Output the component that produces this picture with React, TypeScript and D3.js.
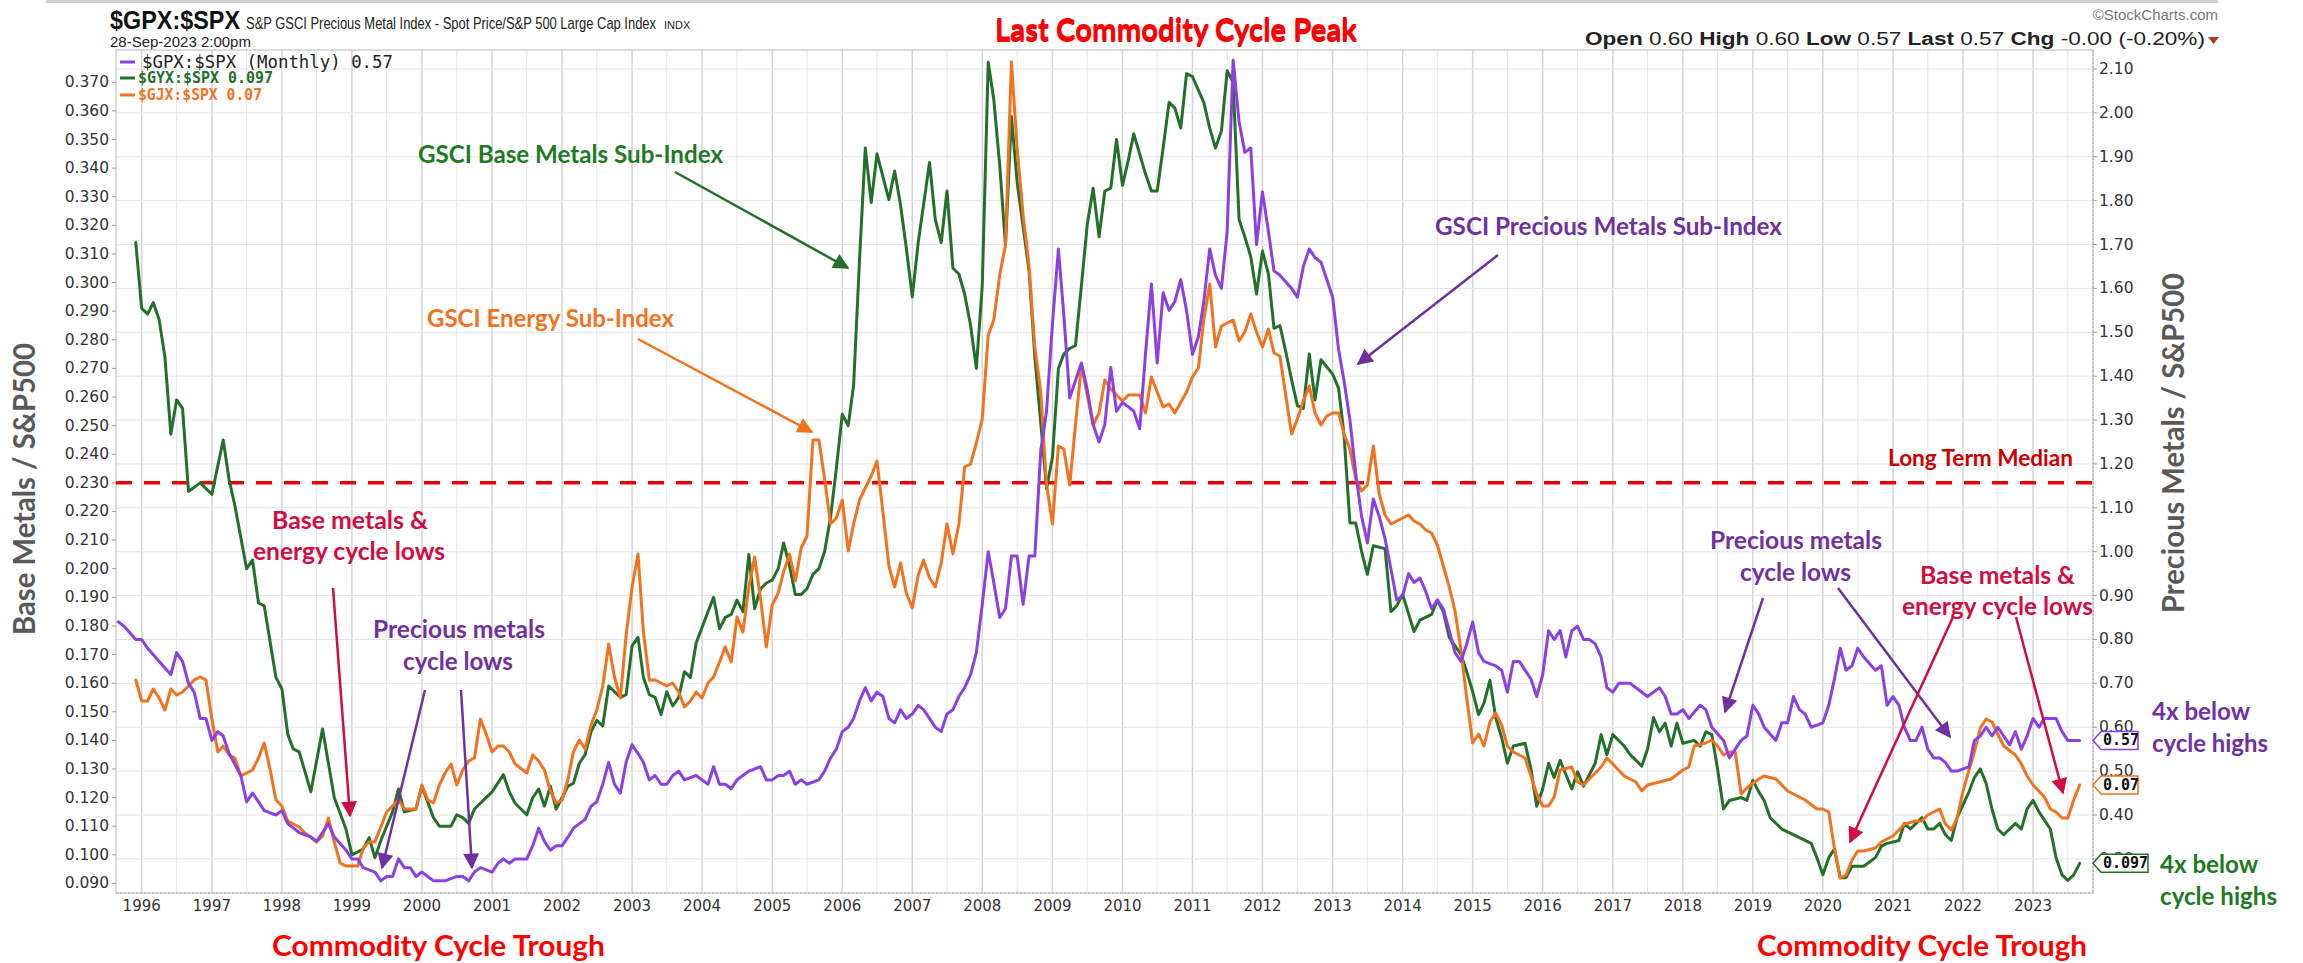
import * as d3 from "d3";

type Row = [string, number];

// $GYX:$SPX  (GSCI base metals / S&P 500), left axis
const baseMetals: Row[] = [
  ["1995-12",0.314],["1996-01",0.291],["1996-02",0.289],["1996-03",0.293],["1996-04",0.287],["1996-05",0.274],["1996-06",0.247],["1996-07",0.259],["1996-08",0.256],["1996-09",0.227],["1996-11",0.230],
  ["1997-01",0.226],["1997-03",0.245],["1997-04",0.231],["1997-05",0.222],["1997-07",0.200],["1997-08",0.203],["1997-09",0.188],["1997-10",0.187],["1997-12",0.162],
  ["1998-01",0.158],["1998-02",0.142],["1998-03",0.137],["1998-04",0.136],["1998-06",0.122],["1998-08",0.144],["1998-10",0.120],["1998-12",0.109],
  ["1999-01",0.100],["1999-02",0.101],["1999-03",0.102],["1999-04",0.106],["1999-05",0.099],["1999-06",0.105],["1999-08",0.115],["1999-09",0.123],["1999-10",0.115],["1999-12",0.116],
  ["2000-01",0.124],["2000-03",0.113],["2000-04",0.110],["2000-06",0.110],["2000-07",0.114],["2000-08",0.113],["2000-09",0.111],["2000-10",0.116],["2000-12",0.120],
  ["2001-01",0.122],["2001-03",0.128],["2001-04",0.122],["2001-05",0.118],["2001-07",0.114],["2001-08",0.120],["2001-09",0.123],["2001-10",0.117],["2001-11",0.124],["2001-12",0.116],
  ["2002-02",0.124],["2002-03",0.125],["2002-04",0.132],["2002-05",0.135],["2002-06",0.143],["2002-07",0.147],["2002-08",0.145],["2002-09",0.159],["2002-11",0.155],["2002-12",0.156],
  ["2003-01",0.173],["2003-02",0.176],["2003-03",0.162],["2003-04",0.156],["2003-05",0.155],["2003-06",0.149],["2003-07",0.157],["2003-08",0.152],["2003-09",0.155],["2003-10",0.164],["2003-11",0.162],["2003-12",0.174],
  ["2004-02",0.185],["2004-03",0.190],["2004-04",0.179],["2004-05",0.183],["2004-06",0.184],["2004-07",0.189],["2004-08",0.185],["2004-09",0.205],["2004-10",0.186],["2004-11",0.193],["2004-12",0.195],
  ["2005-01",0.196],["2005-02",0.200],["2005-03",0.209],["2005-04",0.201],["2005-05",0.191],["2005-06",0.191],["2005-07",0.193],["2005-08",0.198],["2005-09",0.200],["2005-10",0.206],["2005-11",0.218],["2005-12",0.235],
  ["2006-01",0.254],["2006-02",0.250],["2006-03",0.264],["2006-04",0.308],["2006-05",0.347],["2006-06",0.328],["2006-07",0.345],["2006-08",0.337],["2006-09",0.329],["2006-10",0.339],["2006-11",0.327],["2006-12",0.312],
  ["2007-01",0.295],["2007-02",0.314],["2007-04",0.342],["2007-05",0.322],["2007-06",0.314],["2007-07",0.332],["2007-08",0.305],["2007-09",0.303],["2007-10",0.296],["2007-11",0.285],["2007-12",0.270],
  ["2008-01",0.299],["2008-02",0.377],["2008-03",0.364],["2008-04",0.341],["2008-05",0.313],["2008-06",0.358],["2008-07",0.335],["2008-09",0.304],["2008-10",0.274],["2008-11",0.251],["2008-12",0.228],
  ["2009-01",0.239],["2009-02",0.270],["2009-03",0.275],["2009-04",0.277],["2009-05",0.278],["2009-06",0.299],["2009-07",0.320],["2009-08",0.333],["2009-09",0.316],["2009-10",0.332],["2009-11",0.333],["2009-12",0.350],
  ["2010-01",0.334],["2010-02",0.343],["2010-03",0.352],["2010-05",0.338],["2010-06",0.332],["2010-07",0.332],["2010-08",0.347],["2010-09",0.363],["2010-10",0.361],["2010-11",0.354],["2010-12",0.373],
  ["2011-01",0.372],["2011-03",0.363],["2011-04",0.354],["2011-05",0.347],["2011-06",0.353],["2011-07",0.374],["2011-08",0.370],["2011-09",0.322],["2011-10",0.316],["2011-11",0.309],["2011-12",0.296],
  ["2012-01",0.311],["2012-02",0.303],["2012-03",0.284],["2012-04",0.285],["2012-05",0.276],["2012-06",0.266],["2012-07",0.257],["2012-08",0.256],["2012-09",0.275],["2012-10",0.259],["2012-11",0.273],
  ["2013-01",0.268],["2013-02",0.263],["2013-03",0.247],["2013-04",0.216],["2013-05",0.216],["2013-06",0.206],["2013-07",0.198],["2013-08",0.208],["2013-10",0.207],["2013-11",0.185],["2013-12",0.187],
  ["2014-01",0.191],["2014-03",0.178],["2014-04",0.182],["2014-06",0.184],["2014-07",0.189],["2014-08",0.185],["2014-09",0.176],["2014-11",0.170],["2014-12",0.164],
  ["2015-01",0.157],["2015-02",0.149],["2015-03",0.153],["2015-04",0.161],["2015-05",0.148],["2015-06",0.141],["2015-07",0.132],["2015-08",0.138],["2015-10",0.139],["2015-11",0.130],["2015-12",0.117],
  ["2016-01",0.123],["2016-02",0.132],["2016-03",0.127],["2016-04",0.133],["2016-06",0.123],["2016-07",0.129],["2016-08",0.124],["2016-10",0.132],["2016-11",0.142],["2016-12",0.135],
  ["2017-01",0.142],["2017-03",0.138],["2017-04",0.135],["2017-06",0.131],["2017-07",0.137],["2017-08",0.148],["2017-09",0.143],["2017-10",0.146],["2017-11",0.138],["2017-12",0.146],
  ["2018-01",0.139],["2018-03",0.140],["2018-04",0.138],["2018-05",0.143],["2018-06",0.142],["2018-07",0.130],["2018-08",0.116],["2018-09",0.119],["2018-11",0.120],["2018-12",0.119],
  ["2019-01",0.126],["2019-02",0.122],["2019-03",0.119],["2019-04",0.113],["2019-06",0.109],["2019-07",0.108],["2019-09",0.106],["2019-11",0.104],["2019-12",0.099],
  ["2020-01",0.093],["2020-02",0.099],["2020-03",0.102],["2020-04",0.092],["2020-05",0.092],["2020-06",0.096],["2020-08",0.096],["2020-10",0.099],["2020-11",0.103],["2020-12",0.104],
  ["2021-02",0.105],["2021-03",0.111],["2021-04",0.109],["2021-05",0.111],["2021-06",0.113],["2021-07",0.109],["2021-08",0.109],["2021-09",0.111],["2021-10",0.107],["2021-11",0.105],["2021-12",0.113],
  ["2022-02",0.122],["2022-03",0.127],["2022-04",0.130],["2022-05",0.125],["2022-06",0.116],["2022-07",0.109],["2022-08",0.107],["2022-10",0.111],["2022-11",0.109],["2022-12",0.116],
  ["2023-01",0.119],["2023-02",0.115],["2023-04",0.109],["2023-05",0.099],["2023-06",0.093],["2023-07",0.091],["2023-08",0.093],["2023-09",0.097],
];

// $GPX:$SPX  (GSCI precious metals / S&P 500), right axis
const preciousMetals: Row[] = [
  ["1995-09",0.84],["1995-10",0.83],["1995-12",0.80],["1996-01",0.80],["1996-02",0.78],["1996-04",0.75],["1996-06",0.72],["1996-07",0.77],["1996-08",0.75],["1996-09",0.70],["1996-10",0.68],["1996-11",0.62],["1996-12",0.62],
  ["1997-01",0.57],["1997-02",0.59],["1997-03",0.58],["1997-04",0.54],["1997-06",0.49],["1997-07",0.43],["1997-08",0.45],["1997-09",0.43],["1997-10",0.41],["1997-12",0.40],
  ["1998-01",0.41],["1998-02",0.38],["1998-04",0.36],["1998-06",0.35],["1998-07",0.34],["1998-09",0.38],["1998-10",0.35],["1998-12",0.32],
  ["1999-01",0.30],["1999-02",0.30],["1999-03",0.28],["1999-05",0.27],["1999-06",0.25],["1999-07",0.26],["1999-08",0.26],["1999-09",0.30],["1999-10",0.28],["1999-11",0.28],["1999-12",0.26],
  ["2000-01",0.27],["2000-03",0.25],["2000-04",0.25],["2000-05",0.25],["2000-07",0.26],["2000-08",0.26],["2000-09",0.25],["2000-10",0.27],["2000-11",0.28],
  ["2001-01",0.27],["2001-02",0.29],["2001-03",0.30],["2001-04",0.29],["2001-05",0.30],["2001-07",0.30],["2001-08",0.33],["2001-09",0.37],["2001-10",0.34],["2001-11",0.32],["2001-12",0.33],
  ["2002-01",0.33],["2002-02",0.35],["2002-03",0.37],["2002-05",0.39],["2002-06",0.42],["2002-07",0.43],["2002-08",0.47],["2002-09",0.52],["2002-10",0.47],["2002-11",0.45],["2002-12",0.52],
  ["2003-01",0.56],["2003-02",0.54],["2003-03",0.52],["2003-04",0.48],["2003-05",0.49],["2003-06",0.47],["2003-07",0.47],["2003-08",0.49],["2003-09",0.50],["2003-10",0.48],["2003-12",0.49],
  ["2004-01",0.48],["2004-02",0.47],["2004-03",0.51],["2004-04",0.47],["2004-05",0.47],["2004-06",0.46],["2004-07",0.48],["2004-08",0.49],["2004-09",0.50],["2004-11",0.51],["2004-12",0.48],
  ["2005-01",0.48],["2005-02",0.49],["2005-03",0.49],["2005-04",0.50],["2005-05",0.47],["2005-06",0.48],["2005-07",0.47],["2005-09",0.48],["2005-10",0.50],["2005-11",0.53],["2005-12",0.55],
  ["2006-01",0.59],["2006-02",0.60],["2006-03",0.62],["2006-04",0.66],["2006-05",0.69],["2006-06",0.66],["2006-07",0.68],["2006-08",0.67],["2006-09",0.62],["2006-10",0.61],["2006-11",0.64],["2006-12",0.62],
  ["2007-01",0.63],["2007-02",0.65],["2007-03",0.64],["2007-04",0.62],["2007-05",0.60],["2007-06",0.59],["2007-07",0.63],["2007-08",0.64],["2007-09",0.67],["2007-10",0.69],["2007-11",0.72],["2007-12",0.77],
  ["2008-01",0.88],["2008-02",1.00],["2008-03",0.93],["2008-04",0.85],["2008-05",0.87],["2008-06",0.99],["2008-07",0.99],["2008-08",0.88],["2008-09",0.99],["2008-10",0.99],["2008-11",1.23],["2008-12",1.32],
  ["2009-01",1.52],["2009-02",1.69],["2009-03",1.54],["2009-04",1.35],["2009-05",1.39],["2009-06",1.43],["2009-07",1.37],["2009-08",1.29],["2009-09",1.25],["2009-10",1.29],["2009-11",1.42],["2009-12",1.32],
  ["2010-01",1.34],["2010-02",1.33],["2010-03",1.32],["2010-04",1.28],["2010-05",1.45],["2010-06",1.61],["2010-07",1.43],["2010-08",1.59],["2010-09",1.55],["2010-10",1.57],["2010-11",1.62],["2010-12",1.55],
  ["2011-01",1.45],["2011-02",1.49],["2011-03",1.57],["2011-04",1.69],["2011-05",1.63],["2011-06",1.60],["2011-07",1.73],["2011-08",2.12],["2011-09",1.98],["2011-10",1.91],["2011-11",1.92],["2011-12",1.70],
  ["2012-01",1.82],["2012-02",1.73],["2012-03",1.64],["2012-04",1.63],["2012-06",1.60],["2012-07",1.58],["2012-08",1.65],["2012-09",1.69],["2012-10",1.67],["2012-11",1.66],
  ["2013-01",1.58],["2013-02",1.46],["2013-03",1.39],["2013-04",1.30],["2013-05",1.18],["2013-06",1.08],["2013-07",1.02],["2013-08",1.12],["2013-09",1.08],["2013-10",1.03],["2013-11",0.96],["2013-12",0.89],
  ["2014-01",0.90],["2014-02",0.95],["2014-03",0.93],["2014-04",0.94],["2014-05",0.91],["2014-06",0.87],["2014-07",0.89],["2014-08",0.87],["2014-09",0.82],["2014-10",0.77],["2014-11",0.75],["2014-12",0.79],
  ["2015-01",0.84],["2015-02",0.77],["2015-03",0.75],["2015-05",0.74],["2015-06",0.73],["2015-07",0.68],["2015-08",0.75],["2015-09",0.75],["2015-11",0.71],["2015-12",0.67],
  ["2016-01",0.72],["2016-02",0.82],["2016-03",0.80],["2016-04",0.82],["2016-05",0.76],["2016-06",0.82],["2016-07",0.83],["2016-08",0.80],["2016-09",0.80],["2016-10",0.79],["2016-11",0.76],["2016-12",0.69],
  ["2017-01",0.68],["2017-02",0.70],["2017-03",0.70],["2017-04",0.70],["2017-05",0.69],["2017-07",0.67],["2017-08",0.68],["2017-09",0.69],["2017-10",0.67],["2017-11",0.63],["2017-12",0.63],
  ["2018-01",0.64],["2018-02",0.62],["2018-04",0.65],["2018-05",0.64],["2018-06",0.60],["2018-08",0.57],["2018-09",0.53],["2018-10",0.55],["2018-11",0.57],["2018-12",0.58],
  ["2019-01",0.65],["2019-02",0.63],["2019-03",0.60],["2019-05",0.57],["2019-06",0.61],["2019-07",0.61],["2019-08",0.67],["2019-09",0.64],["2019-10",0.63],["2019-11",0.60],
  ["2020-01",0.61],["2020-02",0.65],["2020-03",0.71],["2020-04",0.78],["2020-05",0.73],["2020-06",0.74],["2020-07",0.78],["2020-08",0.76],["2020-10",0.73],["2020-11",0.74],["2020-12",0.65],
  ["2021-01",0.67],["2021-02",0.65],["2021-03",0.60],["2021-04",0.57],["2021-05",0.57],["2021-06",0.60],["2021-07",0.55],["2021-08",0.53],["2021-09",0.53],["2021-10",0.52],["2021-11",0.50],["2021-12",0.50],
  ["2022-02",0.51],["2022-03",0.57],["2022-04",0.58],["2022-05",0.60],["2022-06",0.58],["2022-07",0.60],["2022-08",0.58],["2022-09",0.56],["2022-10",0.59],["2022-11",0.55],["2022-12",0.58],
  ["2023-01",0.62],["2023-02",0.60],["2023-03",0.62],["2023-04",0.62],["2023-05",0.62],["2023-06",0.59],["2023-07",0.57],["2023-08",0.57],["2023-09",0.57],
];

// $GJX:$SPX  (GSCI energy / S&P 500), own hidden scale
const energy: Row[] = [
  ["1995-12",0.105],["1996-01",0.098],["1996-02",0.098],["1996-03",0.102],["1996-04",0.099],["1996-05",0.095],["1996-06",0.102],["1996-07",0.100],["1996-08",0.101],["1996-09",0.103],["1996-10",0.105],["1996-11",0.106],["1996-12",0.105],
  ["1997-01",0.092],["1997-02",0.081],["1997-03",0.083],["1997-04",0.080],["1997-05",0.079],["1997-06",0.073],["1997-08",0.075],["1997-09",0.079],["1997-10",0.084],["1997-11",0.075],["1997-12",0.065],
  ["1998-01",0.063],["1998-02",0.058],["1998-04",0.056],["1998-05",0.054],["1998-07",0.051],["1998-08",0.053],["1998-09",0.059],["1998-10",0.051],["1998-11",0.044],["1998-12",0.043],
  ["1999-02",0.043],["1999-03",0.049],["1999-04",0.051],["1999-05",0.051],["1999-06",0.056],["1999-07",0.061],["1999-09",0.065],["1999-10",0.062],["1999-11",0.062],["1999-12",0.062],
  ["2000-01",0.070],["2000-02",0.065],["2000-03",0.064],["2000-04",0.070],["2000-05",0.074],["2000-06",0.077],["2000-07",0.070],["2000-08",0.075],["2000-09",0.078],["2000-10",0.079],["2000-11",0.092],["2000-12",0.087],
  ["2001-01",0.081],["2001-02",0.083],["2001-03",0.083],["2001-04",0.081],["2001-05",0.077],["2001-07",0.074],["2001-08",0.080],["2001-09",0.078],["2001-10",0.075],["2001-11",0.068],["2001-12",0.064],
  ["2002-01",0.065],["2002-02",0.072],["2002-03",0.081],["2002-04",0.085],["2002-05",0.082],["2002-06",0.090],["2002-07",0.095],["2002-08",0.103],["2002-09",0.117],["2002-10",0.106],["2002-11",0.099],["2002-12",0.120],
  ["2003-01",0.136],["2003-02",0.147],["2003-03",0.121],["2003-04",0.105],["2003-05",0.105],["2003-06",0.104],["2003-07",0.103],["2003-08",0.104],["2003-09",0.101],["2003-10",0.096],["2003-11",0.098],["2003-12",0.101],
  ["2004-01",0.099],["2004-02",0.104],["2004-03",0.106],["2004-04",0.111],["2004-05",0.116],["2004-06",0.111],["2004-07",0.126],["2004-08",0.121],["2004-09",0.136],["2004-10",0.146],["2004-11",0.132],["2004-12",0.116],
  ["2005-01",0.130],["2005-02",0.134],["2005-03",0.141],["2005-04",0.147],["2005-05",0.138],["2005-06",0.149],["2005-07",0.153],["2005-08",0.185],["2005-09",0.185],["2005-10",0.172],["2005-11",0.157],["2005-12",0.159],
  ["2006-01",0.165],["2006-02",0.148],["2006-03",0.157],["2006-04",0.165],["2006-05",0.169],["2006-06",0.173],["2006-07",0.178],["2006-08",0.161],["2006-09",0.143],["2006-10",0.136],["2006-11",0.144],["2006-12",0.134],
  ["2007-01",0.129],["2007-02",0.140],["2007-03",0.145],["2007-04",0.139],["2007-05",0.136],["2007-06",0.144],["2007-07",0.157],["2007-08",0.147],["2007-09",0.157],["2007-10",0.176],["2007-11",0.177],["2007-12",0.184],
  ["2008-01",0.192],["2008-02",0.220],["2008-03",0.225],["2008-04",0.240],["2008-05",0.250],["2008-06",0.311],["2008-07",0.282],["2008-08",0.260],["2008-09",0.243],["2008-10",0.216],["2008-11",0.201],["2008-12",0.170],
  ["2009-01",0.157],["2009-02",0.183],["2009-03",0.182],["2009-04",0.170],["2009-05",0.190],["2009-06",0.210],["2009-07",0.200],["2009-08",0.190],["2009-09",0.194],["2009-10",0.205],["2009-11",0.202],["2009-12",0.200],
  ["2010-01",0.198],["2010-02",0.200],["2010-03",0.200],["2010-04",0.200],["2010-05",0.194],["2010-06",0.206],["2010-07",0.201],["2010-08",0.196],["2010-09",0.197],["2010-10",0.194],["2010-12",0.201],
  ["2011-01",0.206],["2011-02",0.209],["2011-03",0.225],["2011-04",0.237],["2011-05",0.216],["2011-06",0.223],["2011-07",0.224],["2011-08",0.225],["2011-09",0.218],["2011-10",0.221],["2011-11",0.227],["2011-12",0.221],
  ["2012-01",0.216],["2012-02",0.222],["2012-03",0.214],["2012-04",0.213],["2012-05",0.200],["2012-06",0.187],["2012-07",0.192],["2012-08",0.198],["2012-09",0.203],["2012-10",0.194],["2012-11",0.190],["2012-12",0.193],
  ["2013-01",0.194],["2013-02",0.194],["2013-03",0.187],["2013-04",0.182],["2013-05",0.172],["2013-06",0.168],["2013-07",0.170],["2013-08",0.183],["2013-09",0.167],["2013-10",0.160],["2013-11",0.157],
  ["2014-01",0.159],["2014-02",0.160],["2014-03",0.158],["2014-04",0.157],["2014-05",0.155],["2014-06",0.154],["2014-07",0.150],["2014-08",0.143],["2014-09",0.136],["2014-10",0.128],["2014-11",0.115],["2014-12",0.099],
  ["2015-01",0.084],["2015-02",0.087],["2015-03",0.083],["2015-04",0.091],["2015-05",0.094],["2015-06",0.090],["2015-07",0.083],["2015-08",0.081],["2015-10",0.079],["2015-11",0.073],["2015-12",0.067],
  ["2016-01",0.063],["2016-02",0.063],["2016-03",0.066],["2016-04",0.075],["2016-06",0.076],["2016-07",0.071],["2016-08",0.070],["2016-09",0.072],["2016-10",0.074],["2016-11",0.076],["2016-12",0.079],
  ["2017-01",0.077],["2017-03",0.073],["2017-05",0.071],["2017-06",0.068],["2017-07",0.070],["2017-09",0.071],["2017-11",0.072],
  ["2018-01",0.075],["2018-02",0.076],["2018-03",0.083],["2018-05",0.084],["2018-06",0.085],["2018-07",0.083],["2018-08",0.080],["2018-09",0.081],["2018-10",0.081],["2018-11",0.067],["2018-12",0.069],
  ["2019-02",0.072],["2019-03",0.073],["2019-05",0.072],["2019-06",0.070],["2019-07",0.068],["2019-09",0.066],["2019-10",0.065],["2019-12",0.062],
  ["2020-01",0.062],["2020-02",0.061],["2020-03",0.049],["2020-04",0.039],["2020-05",0.040],["2020-06",0.045],["2020-07",0.048],["2020-08",0.048],["2020-10",0.049],["2020-11",0.051],["2020-12",0.052],
  ["2021-01",0.053],["2021-02",0.055],["2021-03",0.057],["2021-05",0.058],["2021-06",0.058],["2021-07",0.060],["2021-08",0.061],["2021-09",0.062],["2021-10",0.057],["2021-11",0.055],["2021-12",0.059],
  ["2022-01",0.068],["2022-02",0.075],["2022-03",0.081],["2022-04",0.089],["2022-05",0.092],["2022-06",0.091],["2022-07",0.087],["2022-08",0.083],["2022-10",0.080],["2022-11",0.077],["2022-12",0.073],
  ["2023-01",0.070],["2023-03",0.066],["2023-04",0.062],["2023-05",0.061],["2023-06",0.059],["2023-07",0.059],["2023-08",0.065],["2023-09",0.070],
];

const yearLabels = d3.range(1996, 2024);
const leftTicks = d3.range(90, 371, 10).map((d) => d / 1000);
const rightTicks = d3.range(3, 22).map((d) => d / 10);
const medianLevel = 0.23;
const lastPrecious = "0.57";
const lastBase = "0.097";
const lastEnergy = "0.07";

const W = 2303;
const H = 963;
const L = 116, R = 2093, T = 50, B = 893;

const PURPLE = "#8c3fe3";
const GREEN = "#23702a";
const ORANGE = "#f2721e";
const TXT_PURPLE = "#7030a0";
const TXT_GREEN = "#1e7a23";
const CRIMSON = "#d10c43";
const RED = "#ff0000";
const ANN_FONT = "Lato, 'Open Sans', sans-serif";
const AX_FONT = "'DejaVu Sans', Verdana, sans-serif";
const HEAD_FONT = "'Liberation Sans', Arial, sans-serif";
const NARROW_FONT = "'Liberation Sans Narrow', 'Liberation Sans', Arial, sans-serif";

const parse = d3.timeParse("%Y-%m");

const x = d3.scaleTime().domain([new Date(1996, 0, 1), new Date(2023, 0, 1)]).range([141.7, 2033.05]);
const yLeft = d3.scaleLinear().domain([0.37, 0.09]).range([82.3, 883.4]);
const yRight = d3.scaleLinear().domain([2.1, 0.4]).range([69, 815]);
const yEnergy = d3.scaleLinear().domain([0.07, 0.3]).range([785, 95]);

const pathFor = (rows: Row[], y: d3.ScaleLinear<number, number>) =>
  d3.line<Row>().x((d) => x(parse(d[0]) as Date)).y((d) => y(d[1]))(rows) || "";

const arrows = [
  { x1: 675, y1: 172, x2: 848, y2: 268, c: GREEN },
  { x1: 638, y1: 339, x2: 812, y2: 432, c: ORANGE },
  { x1: 1498, y1: 255, x2: 1358, y2: 364, c: TXT_PURPLE },
  { x1: 333, y1: 588, x2: 350, y2: 816, c: CRIMSON },
  { x1: 425, y1: 690, x2: 382, y2: 868, c: TXT_PURPLE },
  { x1: 461, y1: 690, x2: 472, y2: 868, c: TXT_PURPLE },
  { x1: 1763, y1: 598, x2: 1725, y2: 712, c: TXT_PURPLE },
  { x1: 1838, y1: 588, x2: 1950, y2: 737, c: TXT_PURPLE },
  { x1: 1953, y1: 617, x2: 1850, y2: 842, c: CRIMSON },
  { x1: 2016, y1: 617, x2: 2063, y2: 793, c: CRIMSON },
];

const labels = [
  { t: "Last Commodity Cycle Peak", x: 995, y: 30, w: 362, s: 30, c: RED },
  { t: "GSCI Base Metals Sub-Index", x: 418, y: 153, w: 305, s: 25, c: TXT_GREEN },
  { t: "GSCI Energy Sub-Index", x: 427, y: 317, w: 247, s: 25, c: ORANGE },
  { t: "GSCI Precious Metals Sub-Index", x: 1435, y: 225, w: 347, s: 25, c: TXT_PURPLE },
  { t: "Long Term Median", x: 1888, y: 457, w: 185, s: 22, c: "#cc0000" },
  { t: "Base metals &", x: 272, y: 519, w: 156, s: 24, c: CRIMSON },
  { t: "energy cycle lows", x: 253, y: 550, w: 192, s: 24, c: CRIMSON },
  { t: "Precious metals", x: 373, y: 628, w: 172, s: 24, c: TXT_PURPLE },
  { t: "cycle lows", x: 403, y: 660, w: 110, s: 24, c: TXT_PURPLE },
  { t: "Precious metals", x: 1710, y: 539, w: 172, s: 24, c: TXT_PURPLE },
  { t: "cycle lows", x: 1740, y: 571, w: 111, s: 24, c: TXT_PURPLE },
  { t: "Base metals &", x: 1920, y: 574, w: 155, s: 24, c: CRIMSON },
  { t: "energy cycle lows", x: 1902, y: 605, w: 191, s: 24, c: CRIMSON },
  { t: "4x below", x: 2152, y: 710, w: 98, s: 25, c: TXT_PURPLE },
  { t: "cycle highs", x: 2152, y: 742, w: 116, s: 25, c: TXT_PURPLE },
  { t: "4x below", x: 2160, y: 863, w: 98, s: 25, c: TXT_GREEN },
  { t: "cycle highs", x: 2160, y: 895, w: 117, s: 25, c: TXT_GREEN },
  { t: "Commodity Cycle Trough", x: 272, y: 944, w: 333, s: 29, c: RED },
  { t: "Commodity Cycle Trough", x: 1757, y: 944, w: 330, s: 29, c: RED },
];

function ValueTag({ y, text, color, w }: { y: number; text: string; color: string; w: number }) {
  const h = 18;
  const d = `M${R},${y} L${R + 8},${y - h / 2} L${R + 8 + w},${y - h / 2} L${R + 8 + w},${y + h / 2} L${R + 8},${y + h / 2} Z`;
  return (
    <g>
      <path d={d} fill="#fff" stroke={color} strokeWidth={1.5} />
      <text x={R + 10} y={y} dominantBaseline="central" fontFamily="'DejaVu Sans Mono', monospace" fontWeight="bold" fontSize={15} fill="#111">
        {text}
      </text>
    </g>
  );
}

export default function App() {
  const halfYears = d3.timeMonth.every(6)!.range(new Date(1995, 6, 1), new Date(2024, 0, 2)).filter((d) => x(d) > L && x(d) < R);
  const markerColors = [GREEN, ORANGE, TXT_PURPLE, CRIMSON];

  return (
    <div style={{ position: "absolute", left: 0, top: 0, width: W, height: H, background: "#fff" }}>
      <svg width={W} height={H} viewBox={`0 0 ${W} ${H}`} style={{ display: "block" }}>
        <defs>
          {markerColors.map((c, i) => (
            <marker key={c} id={`ah${i}`} viewBox="0 0 10 10" refX={9} refY={5} markerWidth={20} markerHeight={16} markerUnits="userSpaceOnUse" orient="auto">
              <path d="M0,0 L10,5 L0,10 z" fill={c} />
            </marker>
          ))}
        </defs>
        <rect width={W} height={H} fill="#fff" />
        <rect x={46} y={0} width={2172} height={3} fill="#d0d0d0" />

        {/* header */}
        <text x={110} y={29} fontFamily={NARROW_FONT} fontWeight="bold" fontSize={25} textLength={130} lengthAdjust="spacingAndGlyphs" fill="#111">
          $GPX:$SPX
        </text>
        <text x={246} y={29} fontFamily={NARROW_FONT} fontSize={16} textLength={410} lengthAdjust="spacingAndGlyphs" fill="#222">
          S&amp;P GSCI Precious Metal Index - Spot Price/S&amp;P 500 Large Cap Index
        </text>
        <text x={664} y={29} fontFamily={NARROW_FONT} fontSize={11} fill="#222">
          INDX
        </text>
        <text x={110} y={47} fontFamily={NARROW_FONT} fontSize={15} fill="#222">
          28-Sep-2023 2:00pm
        </text>
        <text x={2218} y={20} textAnchor="end" fontFamily={HEAD_FONT} fontSize={15} fill="#777">
          ©StockCharts.com
        </text>
        <text x={1585} y={45} fontFamily={HEAD_FONT} fontSize={18} textLength={620} lengthAdjust="spacingAndGlyphs" fill="#222">
          <tspan fontWeight="bold">Open</tspan> 0.60 <tspan fontWeight="bold">High</tspan> 0.60 <tspan fontWeight="bold">Low</tspan> 0.57{" "}
          <tspan fontWeight="bold">Last</tspan> 0.57 <tspan fontWeight="bold">Chg</tspan> -0.00 (-0.20%)
        </text>
        <path d="M2208,37 L2219,37 L2213.5,44 Z" fill="#a0402a" />
        <text x={995} y={40} fontFamily={ANN_FONT} fontWeight="bold" fontSize={30} textLength={362} lengthAdjust="spacingAndGlyphs" fill={RED}>
          Last Commodity Cycle Peak
        </text>

        {/* grid */}
        <g>
          {halfYears.map((d) => (
            <line key={+d} x1={x(d)} x2={x(d)} y1={T} y2={B} stroke={d.getMonth() === 0 ? "#d4d4d4" : "#e6e6e6"} strokeWidth={d.getMonth() === 0 ? 1.5 : 1} />
          ))}
          {rightTicks.map((v) => (
            <line key={v} x1={L} x2={R} y1={yRight(v)} y2={yRight(v)} stroke="#e3e3e3" strokeWidth={1} />
          ))}
        </g>
        <rect x={L} y={T} width={R - L} height={B - T} fill="none" stroke="#c4c4c4" strokeWidth={1.2} />
        <line x1={R} x2={R} y1={T} y2={B} stroke="#aaa" strokeDasharray="2,2" />
        <line x1={L} x2={R} y1={B} y2={B} stroke="#aaa" strokeDasharray="2,2" />

        {/* left axis */}
        <g fontFamily={AX_FONT} fontSize={15.5} fill="#333">
          {leftTicks.map((v) => (
            <g key={v}>
              <line x1={L - 4} x2={L} y1={yLeft(v)} y2={yLeft(v)} stroke="#999" />
              <text x={109} y={yLeft(v)} textAnchor="end" dominantBaseline="central">
                {d3.format(".3f")(v)}
              </text>
            </g>
          ))}
        </g>
        {/* right axis */}
        <g fontFamily={AX_FONT} fontSize={15.5} fill="#333">
          {rightTicks.map((v) => (
            <g key={v}>
              <line x1={R} x2={R + 4} y1={yRight(v)} y2={yRight(v)} stroke="#999" />
              <text x={2099} y={yRight(v)} dominantBaseline="central">
                {d3.format(".2f")(v)}
              </text>
            </g>
          ))}
        </g>
        {/* bottom axis */}
        <g fontFamily={AX_FONT} fontSize={15} fill="#333">
          {yearLabels.map((yr) => (
            <text key={yr} x={x(new Date(yr, 0, 1))} y={911} textAnchor="middle">
              {yr}
            </text>
          ))}
        </g>

        {/* axis titles */}
        <text transform="translate(35,489) rotate(-90)" textAnchor="middle" fontFamily={ANN_FONT} fontWeight="bold" fontSize={30} textLength={292} lengthAdjust="spacingAndGlyphs" fill="#595959">
          Base Metals / S&amp;P500
        </text>
        <text transform="translate(2184,443) rotate(-90)" textAnchor="middle" fontFamily={ANN_FONT} fontWeight="bold" fontSize={30} textLength={340} lengthAdjust="spacingAndGlyphs" fill="#595959">
          Precious Metals / S&amp;P500
        </text>

        {/* median */}
        <line x1={L} x2={R} y1={yLeft(medianLevel)} y2={yLeft(medianLevel)} stroke="#f00000" strokeWidth={3.5} strokeDasharray="16,12" />

        {/* series */}
        <g fill="none" strokeWidth={3} strokeLinejoin="round" strokeLinecap="round">
          <path d={pathFor(baseMetals, yLeft)} stroke={GREEN} />
          <path d={pathFor(energy, yEnergy)} stroke={ORANGE} />
          <path d={pathFor(preciousMetals, yRight)} stroke={PURPLE} />
        </g>

        {/* legend */}
        <g fontFamily="'DejaVu Sans Mono', monospace">
          <line x1={120} x2={135} y1={62} y2={62} stroke={PURPLE} strokeWidth={3} />
          <text x={142} y={62} dominantBaseline="central" fontSize={17} textLength={251} lengthAdjust="spacingAndGlyphs" fill="#222">
            $GPX:$SPX (Monthly) 0.57
          </text>
          <line x1={120} x2={135} y1={78} y2={78} stroke={GREEN} strokeWidth={3} />
          <text x={138} y={78} dominantBaseline="central" fontSize={15} fontWeight="bold" textLength={135} lengthAdjust="spacingAndGlyphs" fill={GREEN}>
            $GYX:$SPX 0.097
          </text>
          <line x1={120} x2={135} y1={95} y2={95} stroke={ORANGE} strokeWidth={3} />
          <text x={138} y={95} dominantBaseline="central" fontSize={15} fontWeight="bold" textLength={124} lengthAdjust="spacingAndGlyphs" fill={ORANGE}>
            $GJX:$SPX 0.07
          </text>
        </g>

        {/* last value tags */}
        <ValueTag y={yRight(+lastPrecious)} text={lastPrecious} color={PURPLE} w={37} />
        <ValueTag y={yEnergy(+lastEnergy)} text={lastEnergy} color={ORANGE} w={37} />
        <ValueTag y={yLeft(+lastBase)} text={lastBase} color={GREEN} w={47} />

        {/* annotations */}
        {arrows.map((a, i) => (
          <line key={i} x1={a.x1} y1={a.y1} x2={a.x2} y2={a.y2} stroke={a.c} strokeWidth={2.5} markerEnd={`url(#ah${markerColors.indexOf(a.c)})`} />
        ))}
        {labels.map((l, i) => (
          <text key={i} x={l.x} y={l.y} dominantBaseline="central" fontFamily={ANN_FONT} fontWeight="bold" fontSize={l.s} textLength={l.w} lengthAdjust="spacingAndGlyphs" fill={l.c}>
            {l.t}
          </text>
        ))}
      </svg>
    </div>
  );
}
